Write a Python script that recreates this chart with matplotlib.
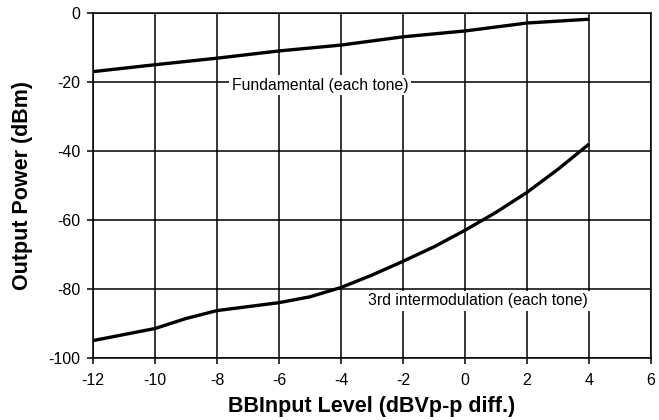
import matplotlib.pyplot as plt

plt.rcParams['font.family'] = ['Liberation Sans', 'DejaVu Sans']
plt.rcParams['axes.unicode_minus'] = False

# input level (dBVp-p diff.)
x_fund = [-12, -10, -8, -6, -4, -2, 0, 2, 4]
fundamental = [-17.0, -15.0, -13.1, -11.0, -9.3, -6.9, -5.2, -2.9, -1.8]

x_im3 = [-12, -10, -9, -8, -6, -5, -4, -3, -2, -1, 0, 1, 2, 3, 4]
im3 = [-95.0, -91.5, -88.6, -86.3, -84.0, -82.3, -79.6, -76.0, -72.0, -67.8,
       -63.0, -57.8, -52.0, -45.3, -38.0]

xticks = [-12, -10, -8, -6, -4, -2, 0, 2, 4, 6]
yticks = [-100, -80, -60, -40, -20, 0]

fig = plt.figure(figsize=(6.59, 4.2), dpi=100)
ax = fig.add_axes([0.141, 0.148, 0.847, 0.821])

ax.plot(x_fund, fundamental, color='black', lw=2.4, solid_capstyle='butt', zorder=3)
ax.plot(x_im3, im3, color='black', lw=2.4, solid_capstyle='butt', zorder=3)

ax.set_xlim(-12, 6)
ax.set_ylim(-100, 0)
ax.set_xticks(xticks)
ax.set_yticks(yticks)
ax.grid(True, color='black', lw=1.1)
ax.set_axisbelow(True)
for s in ax.spines.values():
    s.set_linewidth(1.1)
ax.tick_params(direction='out', length=4, width=1.1, labelsize=11.5)
ax.tick_params(axis='x', pad=7)
ax.tick_params(axis='y', pad=5)

# labels with white boxes over the grid
box = dict(facecolor='white', edgecolor='none', pad=2)
ax.text(-4.68, -20.9, 'Fundamental (each tone)', fontsize=11.3, ha='center',
        va='center', bbox=box, zorder=4)
ax.text(0.42, -83.5, '3rd intermodulation (each tone)', fontsize=11.3,
        ha='center', va='center', bbox=box, zorder=4)

ax.set_xlabel('BBInput Level (dBVp-p diff.)', fontsize=15.5, fontweight='bold', labelpad=6)
ax.set_ylabel('Output Power (dBm)', fontsize=15.5, fontweight='bold', labelpad=11)

fig.savefig('out.png', dpi=100)
